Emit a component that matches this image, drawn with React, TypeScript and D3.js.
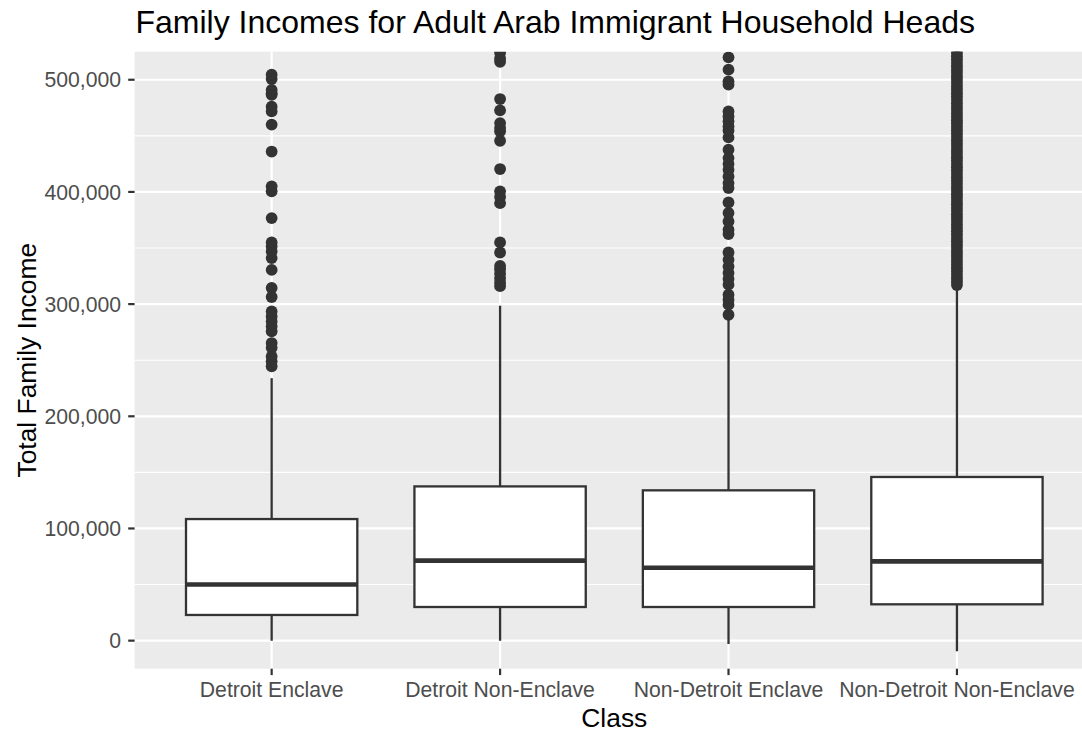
import React from "react";
import * as d3 from "d3";

const title = "Family Incomes for Adult Arab Immigrant Household Heads";
const xTitle = "Class";
const yTitle = "Total Family Income";

const categories = [
  "Detroit Enclave",
  "Detroit Non-Enclave",
  "Non-Detroit Enclave",
  "Non-Detroit Non-Enclave",
];

const lowerWhisker = [0, 0, -3000, -9500];
const q1 = [22900, 30000, 30000, 32400];
const medians = [50000, 71300, 65000, 70700];
const q3 = [108400, 137500, 134000, 145900];
const upperWhisker = [234000, 298600, 286700, 315000];

const outliersDetroitEnclave = [
  244500, 249000, 253400, 261000, 265300, 275700, 280000, 284600, 289000,
  293500, 306300, 314400, 330500, 341000, 347000, 351400, 355000, 376700,
  400500, 405000, 436000, 460000, 471800, 476000, 486600, 488000, 491000,
  500600, 504500,
];
const outliersDetroitNonEnclave = [
  316000, 319000, 323000, 327000, 331000, 334000, 346000, 355000, 390000,
  395500, 400500, 420400, 445600, 454000, 457000, 461400, 472700, 482800,
  516000, 519000, 524000, 535000,
];
const outliersNonDetroitEnclave = [
  290500, 299500, 303900, 308400, 317300, 322400, 327700, 333600, 339600,
  346000, 362500, 366300, 373700, 381200, 390600, 403500, 407900, 413800,
  419800, 425000, 430200, 437600, 448600, 454800, 458400, 462900, 467300,
  471800, 495600, 498500, 509000, 520000,
];
const outliersNonDetroitNonEnclave = [
  317000, 320000, 323000, 326000, 329000, 332000, 335000, 338000, 341000,
  344000, 347000, 350000, 353000, 356000, 359000, 362000, 365000, 368000,
  371000, 374000, 377000, 380000, 383000, 386000, 389000, 392000, 395000,
  398000, 401000, 404000, 407000, 410000, 413000, 416000, 419000, 422000,
  425000, 428000, 431000, 434000, 437000, 440000, 443000, 446000, 449000,
  452000, 455000, 458000, 461000, 464000, 467000, 470000, 473000, 476000,
  479000, 482000, 485000, 488000, 491000, 494000, 497000, 500000, 503000,
  506000, 509000, 512000, 515000, 518000, 521000, 524000, 527000, 530000,
];
const outliers = [
  outliersDetroitEnclave,
  outliersDetroitNonEnclave,
  outliersNonDetroitEnclave,
  outliersNonDetroitNonEnclave,
];

const yMajorTicks = [0, 100000, 200000, 300000, 400000, 500000];
const yMinorTicks = [50000, 150000, 250000, 350000, 450000];

const W = 1082;
const H = 734;
const panel = { left: 134.6, right: 1094, top: 51.7, bottom: 668.7 };
const FONT = "'Liberation Sans', Arial, Helvetica, sans-serif";
const INK = "#333333";

export default function App() {
  const x = d3
    .scalePoint<string>()
    .domain(categories)
    .range([panel.left, panel.right])
    .padding(0.6);
  const y = d3
    .scaleLinear()
    .domain([-25000, 525000])
    .range([panel.bottom, panel.top]);
  const boxW = x.step() * 0.75;
  const fmt = d3.format(",");

  return (
    <svg
      width={W}
      height={H}
      style={{ position: "absolute", left: 0, top: 0, background: "#fff" }}
      fontFamily={FONT}
    >
      <defs>
        <clipPath id="panelClip">
          <rect
            x={panel.left}
            y={panel.top}
            width={panel.right - panel.left}
            height={panel.bottom - panel.top}
          />
        </clipPath>
      </defs>
      <rect
        x={panel.left}
        y={panel.top}
        width={panel.right - panel.left}
        height={panel.bottom - panel.top}
        fill="#EBEBEB"
      />
      {yMinorTicks.map((t) => (
        <line
          key={"mi" + t}
          x1={panel.left}
          x2={panel.right}
          y1={y(t)}
          y2={y(t)}
          stroke="#fff"
          strokeWidth={1.1}
        />
      ))}
      {yMajorTicks.map((t) => (
        <line
          key={"ma" + t}
          x1={panel.left}
          x2={panel.right}
          y1={y(t)}
          y2={y(t)}
          stroke="#fff"
          strokeWidth={2.2}
        />
      ))}
      {categories.map((c) => (
        <line
          key={"vx" + c}
          x1={x(c)}
          x2={x(c)}
          y1={panel.top}
          y2={panel.bottom}
          stroke="#fff"
          strokeWidth={2.2}
        />
      ))}
      <g clipPath="url(#panelClip)">
        {categories.map((c, i) => {
          const cx = x(c) as number;
          return (
            <g key={"b" + c}>
              {outliers[i].map((v, j) => (
                <circle key={j} cx={cx} cy={y(v)} r={5.9} fill={INK} />
              ))}
              <line
                x1={cx}
                x2={cx}
                y1={y(q3[i])}
                y2={y(upperWhisker[i])}
                stroke={INK}
                strokeWidth={2.3}
              />
              <line
                x1={cx}
                x2={cx}
                y1={y(q1[i])}
                y2={y(lowerWhisker[i])}
                stroke={INK}
                strokeWidth={2.3}
              />
              <rect
                x={cx - boxW / 2}
                y={y(q3[i])}
                width={boxW}
                height={y(q1[i]) - y(q3[i])}
                fill="#fff"
                stroke={INK}
                strokeWidth={2.3}
              />
              <line
                x1={cx - boxW / 2}
                x2={cx + boxW / 2}
                y1={y(medians[i])}
                y2={y(medians[i])}
                stroke={INK}
                strokeWidth={4.6}
              />
            </g>
          );
        })}
      </g>
      {yMajorTicks.map((t) => (
        <g key={"yt" + t}>
          <line
            x1={panel.left - 6.4}
            x2={panel.left}
            y1={y(t)}
            y2={y(t)}
            stroke={INK}
            strokeWidth={2.2}
          />
          <text
            x={panel.left - 13.5}
            y={y(t) + 7.6}
            textAnchor="end"
            fontSize={21.2}
            fill="#4D4D4D"
          >
            {fmt(t)}
          </text>
        </g>
      ))}
      {categories.map((c) => (
        <g key={"xt" + c}>
          <line
            x1={x(c)}
            x2={x(c)}
            y1={panel.bottom}
            y2={panel.bottom + 6.4}
            stroke={INK}
            strokeWidth={2.2}
          />
          <text
            x={x(c)}
            y={696.8}
            textAnchor="middle"
            fontSize={21.2}
            fill="#4D4D4D"
          >
            {c}
          </text>
        </g>
      ))}
      <text
        x={(panel.left + panel.right) / 2}
        y={727}
        textAnchor="middle"
        fontSize={26.4}
        fill="#000"
      >
        {xTitle}
      </text>
      <text
        transform={`translate(35.5, ${(panel.top + panel.bottom) / 2}) rotate(-90)`}
        textAnchor="middle"
        fontSize={26.4}
        fill="#000"
      >
        {yTitle}
      </text>
      <text x={135.5} y={32.5} fontSize={32} fill="#000">
        {title}
      </text>
    </svg>
  );
}
